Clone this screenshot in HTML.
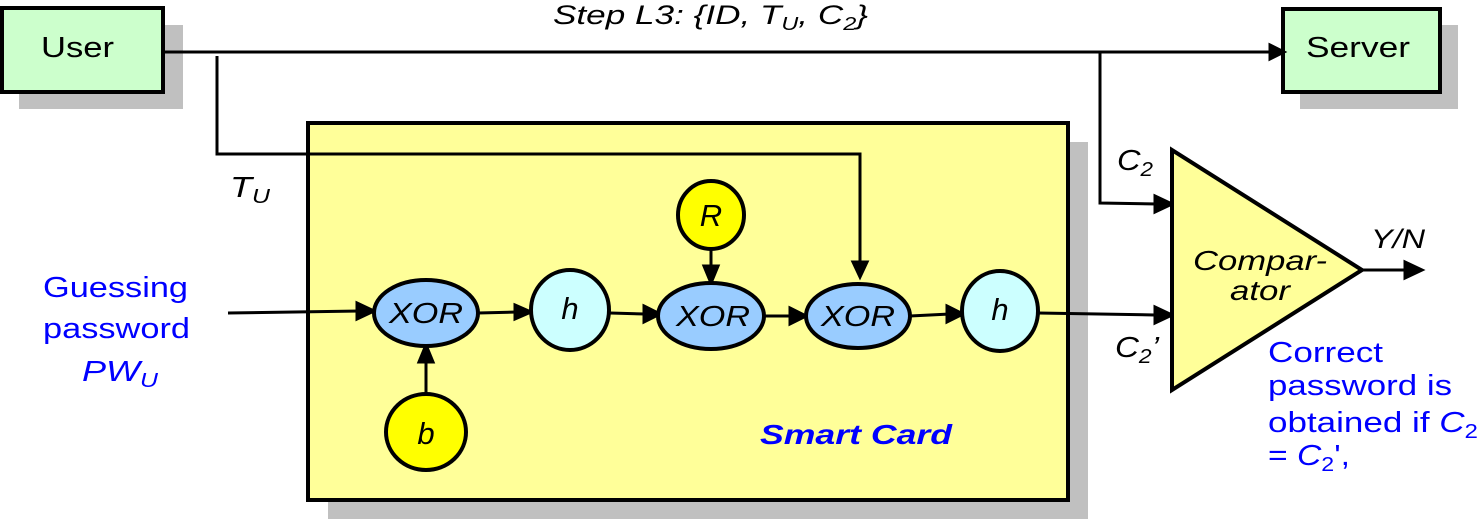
<!DOCTYPE html>
<html><head><meta charset="utf-8"><style>body{margin:0;background:#fff}svg{display:block}text{font-family:"Liberation Sans",sans-serif}</style></head>
<body>
<svg width="1478" height="520" viewBox="0 0 1478 520" xmlns="http://www.w3.org/2000/svg">
<!-- User -->
<rect x="19" y="25" width="164" height="84" fill="#c0c0c0"/>
<rect x="2" y="8" width="161" height="84" fill="#ccffcc" stroke="#000" stroke-width="4"/>
<text x="41" y="57" font-size="29" textLength="73" lengthAdjust="spacingAndGlyphs">User</text>
<!-- Server -->
<rect x="1300" y="25" width="158" height="84" fill="#c0c0c0"/>
<rect x="1283" y="9" width="157" height="83" fill="#ccffcc" stroke="#000" stroke-width="4"/>
<text x="1306" y="57" font-size="29" textLength="104" lengthAdjust="spacingAndGlyphs">Server</text>
<text x="553" y="24" font-size="27" font-style="italic" textLength="315" lengthAdjust="spacingAndGlyphs">Step L3: {ID, T<tspan font-size="18" dy="6">U</tspan><tspan dy="-6">, C</tspan><tspan font-size="18" dy="6">2</tspan><tspan dy="-6">}</tspan></text>
<!-- Smart card -->
<rect x="328" y="142" width="760" height="377" fill="#c0c0c0"/>
<rect x="308" y="123" width="760" height="377" fill="#ffff99" stroke="#000" stroke-width="4"/>
<text x="760" y="444" font-size="28" font-weight="bold" font-style="italic" fill="#0000ff" textLength="192" lengthAdjust="spacingAndGlyphs">Smart Card</text>
<!-- lines -->
<g stroke="#000" stroke-width="3" fill="none">
<line x1="163" y1="52" x2="1270" y2="52"/>
<path d="M1270,45 L1284,52 L1270,59 z" fill="#000"/>
<polyline points="217,56 217,154 860,154 860,265"/>
<path d="M853,262 L860,277 L867,262 z" fill="#000"/>
<polyline points="1100,52 1100,203 1158,204"/>
<path d="M1155,196 L1172,204 L1155,212 z" fill="#000"/>
<line x1="1038" y1="313" x2="1155" y2="315"/>
<path d="M1155,307 L1172,315 L1155,323 z" fill="#000"/>
<line x1="1362" y1="270" x2="1408" y2="270"/>
<path d="M1405,262 L1422,270 L1405,278 z" fill="#000"/>
<line x1="228" y1="313" x2="360" y2="311"/>
<path d="M357,303 L374,311 L357,319 z" fill="#000"/>
<line x1="478" y1="313" x2="517" y2="312"/>
<path d="M515,305 L531,312 L515,319 z" fill="#000"/>
<line x1="610" y1="313" x2="645" y2="314"/>
<path d="M644,306 L660,314 L644,322 z" fill="#000"/>
<line x1="764" y1="316" x2="793" y2="316"/>
<path d="M790,308 L806,316 L790,324 z" fill="#000"/>
<line x1="910" y1="316" x2="950" y2="314"/>
<path d="M947,306 L963,314 L947,322 z" fill="#000"/>
<line x1="711" y1="250" x2="711" y2="270"/>
<path d="M704,266 L711,283 L718,266 z" fill="#000"/>
<line x1="426" y1="395" x2="426" y2="360"/>
<path d="M419,362 L426,345 L433,362 z" fill="#000"/>
</g>
<!-- comparator -->
<polygon points="1172,150 1172,390 1362,270" fill="#ffff99" stroke="#000" stroke-width="4"/>
<text x="1193" y="270" font-size="28" font-style="italic" textLength="134" lengthAdjust="spacingAndGlyphs">Compar-</text>
<text x="1230" y="300" font-size="28" font-style="italic" textLength="60" lengthAdjust="spacingAndGlyphs">ator</text>
<text x="1371" y="248" font-size="27" font-style="italic" textLength="54" lengthAdjust="spacingAndGlyphs">Y/N</text>
<text x="1117" y="170" font-size="29" font-style="italic" textLength="36" lengthAdjust="spacingAndGlyphs">C<tspan font-size="20" dy="6">2</tspan></text>
<text x="1115" y="357" font-size="29" font-style="italic" textLength="44" lengthAdjust="spacingAndGlyphs">C<tspan font-size="20" dy="6">2</tspan><tspan dy="-6">’</tspan></text>
<text x="230" y="197" font-size="29" font-style="italic" textLength="40" lengthAdjust="spacingAndGlyphs">T<tspan font-size="20" dy="6">U</tspan></text>
<!-- nodes -->
<g stroke="#000" stroke-width="4">
<ellipse cx="426" cy="313" rx="52" ry="33" fill="#99ccff"/>
<ellipse cx="570" cy="310" rx="39" ry="40" fill="#ccffff"/>
<ellipse cx="711" cy="316" rx="53" ry="33" fill="#99ccff"/>
<ellipse cx="858" cy="316" rx="52" ry="32" fill="#99ccff"/>
<ellipse cx="1000" cy="311" rx="38" ry="40" fill="#ccffff"/>
<ellipse cx="711" cy="215" rx="33" ry="34" fill="#ffff00"/>
<ellipse cx="426" cy="432" rx="40" ry="38" fill="#ffff00"/>
</g>
<g font-size="31" font-style="italic" text-anchor="middle">
<text x="426" y="323" font-size="29" textLength="74" lengthAdjust="spacingAndGlyphs">XOR</text>
<text x="570" y="319">h</text>
<text x="713" y="326" font-size="29" textLength="74" lengthAdjust="spacingAndGlyphs">XOR</text>
<text x="858" y="326" font-size="29" textLength="74" lengthAdjust="spacingAndGlyphs">XOR</text>
<text x="1000" y="320">h</text>
<text x="711" y="226">R</text>
<text x="426" y="444">b</text>
</g>
<g font-size="29" fill="#0000ff">
<text x="43" y="297" textLength="145" lengthAdjust="spacingAndGlyphs">Guessing</text>
<text x="43" y="338" textLength="147" lengthAdjust="spacingAndGlyphs">password</text>
<text x="82" y="381" font-style="italic" textLength="76" lengthAdjust="spacingAndGlyphs">PW<tspan font-size="20" dy="6">U</tspan></text>
<text x="1268" y="362" textLength="115" lengthAdjust="spacingAndGlyphs">Correct</text>
<text x="1268" y="395" textLength="184" lengthAdjust="spacingAndGlyphs">password is</text>
<text x="1268" y="432" textLength="210" lengthAdjust="spacingAndGlyphs">obtained if <tspan font-style="italic">C</tspan><tspan font-size="20" dy="6">2</tspan></text>
<text x="1268" y="465" textLength="82" lengthAdjust="spacingAndGlyphs">= <tspan font-style="italic">C</tspan><tspan font-size="20" dy="6">2</tspan><tspan dy="-6">',</tspan></text>
</g>
</svg>
</body></html>
